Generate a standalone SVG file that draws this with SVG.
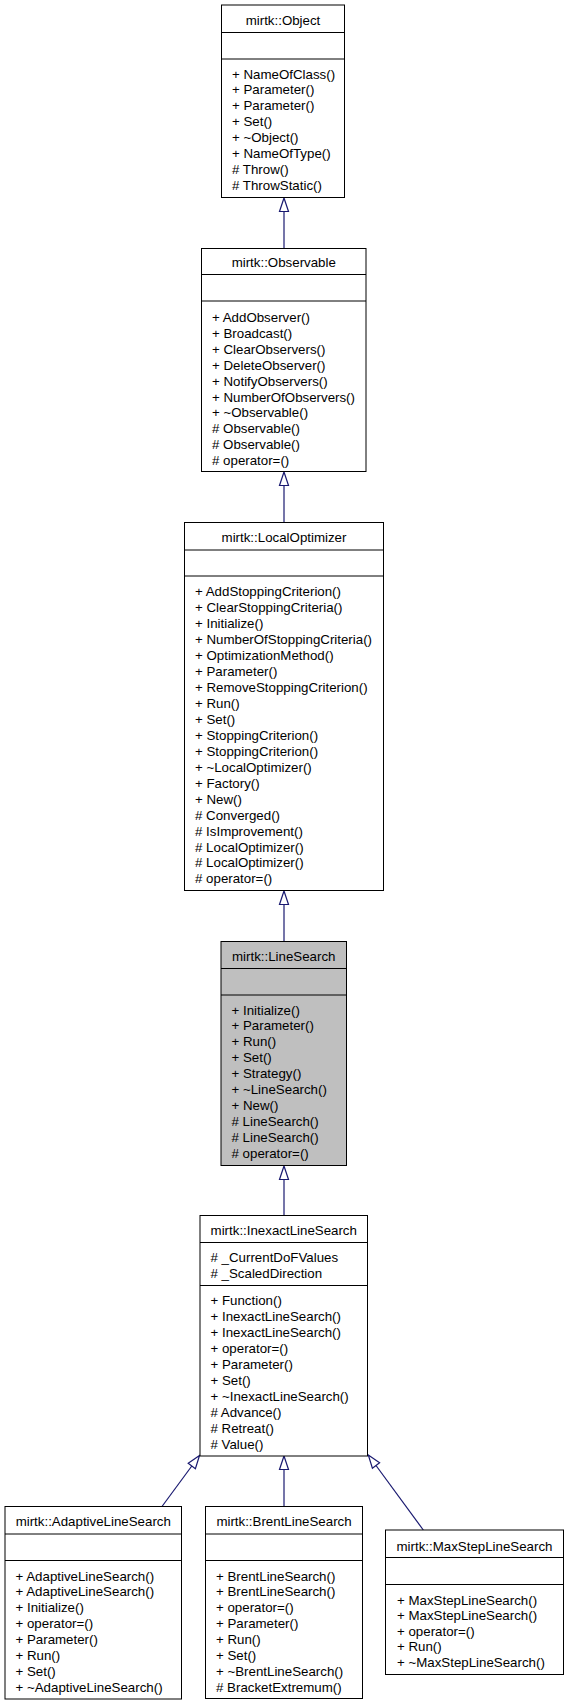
<svg xmlns="http://www.w3.org/2000/svg" width="568" height="1707" viewBox="0 0 568 1707">
<style>
.box{fill:#ffffff;stroke:#000000;stroke-width:1}
.cur{fill:#bfbfbf;stroke:#000000;stroke-width:1}
.sep{stroke:#000000;stroke-width:1}
text{font-family:"Liberation Sans",Arial,Helvetica,sans-serif;font-size:13.3px;fill:#000000}
.t{text-anchor:middle}
.edge{stroke:#191970;stroke-width:1.2;fill:none}
.head{fill:#ffffff;stroke:#191970;stroke-width:1.2}
</style>
<rect width="568" height="1707" fill="#ffffff"/>
<g id="connectors">
  <line class="edge" x1="284" y1="211.5" x2="284" y2="248.5"/>
  <polygon class="head" points="284,198 288.5,211.5 279.5,211.5"/>
  <line class="edge" x1="284" y1="485.5" x2="284" y2="522.5"/>
  <polygon class="head" points="284,472 288.5,485.5 279.5,485.5"/>
  <line class="edge" x1="284" y1="904.5" x2="284" y2="941.5"/>
  <polygon class="head" points="284,891 288.5,904.5 279.5,904.5"/>
  <line class="edge" x1="284" y1="1179.5" x2="284" y2="1215.5"/>
  <polygon class="head" points="284,1166 288.5,1179.5 279.5,1179.5"/>
  <line class="edge" x1="284" y1="1469.5" x2="284" y2="1506.5"/>
  <polygon class="head" points="284,1456 288.5,1469.5 279.5,1469.5"/>
  <line class="edge" x1="162" y1="1506.5" x2="191.8" y2="1466"/>
  <polygon class="head" points="199.5,1455.5 195.4,1468.7 188.2,1463.3"/>
  <line class="edge" x1="423.3" y1="1530" x2="376" y2="1465.5"/>
  <polygon class="head" points="368.3,1455 379.6,1462.8 372.4,1468.2"/>
</g>
<g id="node_Object">
  <rect class="box" x="221.5" y="5" width="123" height="192.5"/>
  <line class="sep" x1="221.5" y1="32.5" x2="344.5" y2="32.5"/>
  <line class="sep" x1="221.5" y1="59" x2="344.5" y2="59"/>
  <text class="t" x="283" y="25">mirtk::Object</text>
  <text x="232" y="78.5">+ NameOfClass()</text>
  <text x="232" y="94.4">+ Parameter()</text>
  <text x="232" y="110.3">+ Parameter()</text>
  <text x="232" y="126.2">+ Set()</text>
  <text x="232" y="142.1">+ ~Object()</text>
  <text x="232" y="158">+ NameOfType()</text>
  <text x="232" y="173.9"># Throw()</text>
  <text x="232" y="189.8"># ThrowStatic()</text>
</g>
<g id="node_Observable">
  <rect class="box" x="201.5" y="248.5" width="164.5" height="223"/>
  <line class="sep" x1="201.5" y1="274.5" x2="366" y2="274.5"/>
  <line class="sep" x1="201.5" y1="301" x2="366" y2="301"/>
  <text class="t" x="283.75" y="267">mirtk::Observable</text>
  <text x="212" y="321.8">+ AddObserver()</text>
  <text x="212" y="337.7">+ Broadcast()</text>
  <text x="212" y="353.7">+ ClearObservers()</text>
  <text x="212" y="369.6">+ DeleteObserver()</text>
  <text x="212" y="385.5">+ NotifyObservers()</text>
  <text x="212" y="401.5">+ NumberOfObservers()</text>
  <text x="212" y="417.4">+ ~Observable()</text>
  <text x="212" y="433.3"># Observable()</text>
  <text x="212" y="449.2"># Observable()</text>
  <text x="212" y="465.2"># operator=()</text>
</g>
<g id="node_LocalOptimizer">
  <rect class="box" x="184.5" y="522.5" width="199" height="368"/>
  <line class="sep" x1="184.5" y1="550" x2="383.5" y2="550"/>
  <line class="sep" x1="184.5" y1="576" x2="383.5" y2="576"/>
  <text class="t" x="284" y="542">mirtk::LocalOptimizer</text>
  <text x="195" y="595.8">+ AddStoppingCriterion()</text>
  <text x="195" y="611.8">+ ClearStoppingCriteria()</text>
  <text x="195" y="627.8">+ Initialize()</text>
  <text x="195" y="643.7">+ NumberOfStoppingCriteria()</text>
  <text x="195" y="659.7">+ OptimizationMethod()</text>
  <text x="195" y="675.7">+ Parameter()</text>
  <text x="195" y="691.7">+ RemoveStoppingCriterion()</text>
  <text x="195" y="707.7">+ Run()</text>
  <text x="195" y="723.6">+ Set()</text>
  <text x="195" y="739.6">+ StoppingCriterion()</text>
  <text x="195" y="755.6">+ StoppingCriterion()</text>
  <text x="195" y="771.6">+ ~LocalOptimizer()</text>
  <text x="195" y="787.6">+ Factory()</text>
  <text x="195" y="803.5">+ New()</text>
  <text x="195" y="819.5"># Converged()</text>
  <text x="195" y="835.5"># IsImprovement()</text>
  <text x="195" y="851.5"># LocalOptimizer()</text>
  <text x="195" y="867.4"># LocalOptimizer()</text>
  <text x="195" y="883.4"># operator=()</text>
</g>
<g id="node_LineSearch">
  <rect class="cur" x="221" y="941.5" width="125.5" height="224"/>
  <line class="sep" x1="221" y1="968.5" x2="346.5" y2="968.5"/>
  <line class="sep" x1="221" y1="995" x2="346.5" y2="995"/>
  <text class="t" x="283.75" y="960.5">mirtk::LineSearch</text>
  <text x="231.5" y="1014.5">+ Initialize()</text>
  <text x="231.5" y="1030.4">+ Parameter()</text>
  <text x="231.5" y="1046.4">+ Run()</text>
  <text x="231.5" y="1062.3">+ Set()</text>
  <text x="231.5" y="1078.2">+ Strategy()</text>
  <text x="231.5" y="1094.2">+ ~LineSearch()</text>
  <text x="231.5" y="1110.1">+ New()</text>
  <text x="231.5" y="1126"># LineSearch()</text>
  <text x="231.5" y="1141.9"># LineSearch()</text>
  <text x="231.5" y="1157.9"># operator=()</text>
</g>
<g id="node_InexactLineSearch">
  <rect class="box" x="200" y="1215.5" width="167.5" height="240.5"/>
  <line class="sep" x1="200" y1="1242.5" x2="367.5" y2="1242.5"/>
  <line class="sep" x1="200" y1="1285.5" x2="367.5" y2="1285.5"/>
  <text class="t" x="283.75" y="1235">mirtk::InexactLineSearch</text>
  <text x="210.5" y="1262.2"># _CurrentDoFValues</text>
  <text x="210.5" y="1277.8"># _ScaledDirection</text>
  <text x="210.5" y="1304.8">+ Function()</text>
  <text x="210.5" y="1320.8">+ InexactLineSearch()</text>
  <text x="210.5" y="1336.8">+ InexactLineSearch()</text>
  <text x="210.5" y="1352.8">+ operator=()</text>
  <text x="210.5" y="1368.8">+ Parameter()</text>
  <text x="210.5" y="1384.8">+ Set()</text>
  <text x="210.5" y="1400.8">+ ~InexactLineSearch()</text>
  <text x="210.5" y="1416.8"># Advance()</text>
  <text x="210.5" y="1432.8"># Retreat()</text>
  <text x="210.5" y="1448.8"># Value()</text>
</g>
<g id="node_AdaptiveLineSearch">
  <rect class="box" x="5" y="1506.5" width="176.5" height="192.5"/>
  <line class="sep" x1="5" y1="1534" x2="181.5" y2="1534"/>
  <line class="sep" x1="5" y1="1560.5" x2="181.5" y2="1560.5"/>
  <text class="t" x="93.25" y="1526">mirtk::AdaptiveLineSearch</text>
  <text x="15.5" y="1580.5">+ AdaptiveLineSearch()</text>
  <text x="15.5" y="1596.4">+ AdaptiveLineSearch()</text>
  <text x="15.5" y="1612.3">+ Initialize()</text>
  <text x="15.5" y="1628.2">+ operator=()</text>
  <text x="15.5" y="1644.1">+ Parameter()</text>
  <text x="15.5" y="1660">+ Run()</text>
  <text x="15.5" y="1675.9">+ Set()</text>
  <text x="15.5" y="1691.8">+ ~AdaptiveLineSearch()</text>
</g>
<g id="node_BrentLineSearch">
  <rect class="box" x="205.5" y="1506.5" width="157" height="192"/>
  <line class="sep" x1="205.5" y1="1534" x2="362.5" y2="1534"/>
  <line class="sep" x1="205.5" y1="1560.5" x2="362.5" y2="1560.5"/>
  <text class="t" x="284" y="1526">mirtk::BrentLineSearch</text>
  <text x="216" y="1580.5">+ BrentLineSearch()</text>
  <text x="216" y="1596.4">+ BrentLineSearch()</text>
  <text x="216" y="1612.3">+ operator=()</text>
  <text x="216" y="1628.2">+ Parameter()</text>
  <text x="216" y="1644.1">+ Run()</text>
  <text x="216" y="1660">+ Set()</text>
  <text x="216" y="1675.9">+ ~BrentLineSearch()</text>
  <text x="216" y="1691.8"># BracketExtremum()</text>
</g>
<g id="node_MaxStepLineSearch">
  <rect class="box" x="385.5" y="1530" width="178" height="144.5"/>
  <line class="sep" x1="385.5" y1="1557.5" x2="563.5" y2="1557.5"/>
  <line class="sep" x1="385.5" y1="1584.5" x2="563.5" y2="1584.5"/>
  <text class="t" x="474.5" y="1551">mirtk::MaxStepLineSearch</text>
  <text x="397" y="1604.5">+ MaxStepLineSearch()</text>
  <text x="397" y="1620">+ MaxStepLineSearch()</text>
  <text x="397" y="1635.5">+ operator=()</text>
  <text x="397" y="1651">+ Run()</text>
  <text x="397" y="1666.5">+ ~MaxStepLineSearch()</text>
</g>
</svg>
